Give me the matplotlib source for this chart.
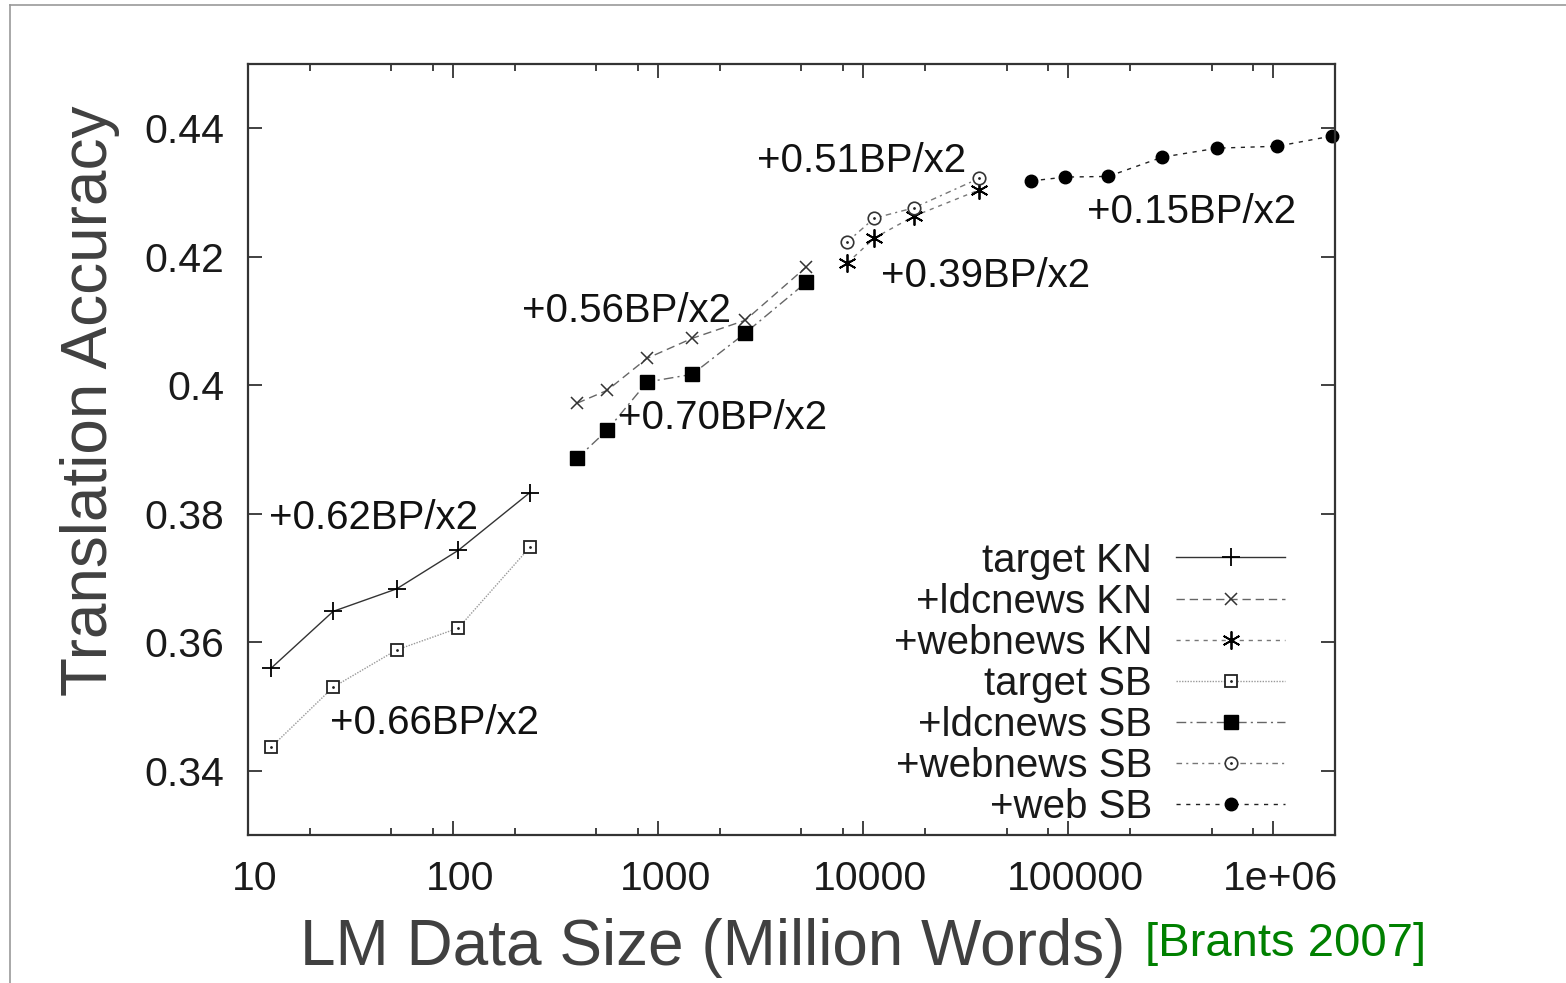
import matplotlib
matplotlib.use("Agg")
import matplotlib.pyplot as plt
from matplotlib.lines import Line2D
from matplotlib.transforms import ScaledTranslation
from matplotlib.ticker import FixedLocator, FixedFormatter, LogLocator, NullFormatter

plt.rcParams['font.family'] = ['Liberation Sans', 'DejaVu Sans']

# LM data size (million words) vs translation accuracy (BLEU)
target_x = [13, 26, 53, 106, 237]
target_kn_y = [0.3560, 0.3648, 0.3683, 0.3743, 0.3833]
target_sb_y = [0.3437, 0.3530, 0.3588, 0.3622, 0.3748]

ldcnews_x = [402, 564, 884, 1466, 2656, 5272]
ldcnews_kn_y = [0.3972, 0.3992, 0.4042, 0.4073, 0.4101, 0.4184]
ldcnews_sb_y = [0.3886, 0.3930, 0.4005, 0.4017, 0.4081, 0.4160]

webnews_x = [8356, 11320, 17630, 36800]
webnews_kn_y = [0.4190, 0.4229, 0.4263, 0.4304]
webnews_sb_y = [0.4223, 0.4260, 0.4276, 0.4322]

web_x = [66000, 96700, 156700, 287500, 533000, 1047000, 1940000]
web_sb_y = [0.4318, 0.4324, 0.4325, 0.4355, 0.4369, 0.4372, 0.4388]

slope_labels = ["+0.62BP/x2", "+0.66BP/x2", "+0.56BP/x2", "+0.70BP/x2",
                "+0.51BP/x2", "+0.39BP/x2", "+0.15BP/x2"]
slope_x = [12.7, 25, 216, 634, 3050, 12250, 123500]
slope_y = [0.3776, 0.3457, 0.4098, 0.3932, 0.4332, 0.4153, 0.4252]

xticks = [10, 100, 1000, 10000, 100000, 1000000]
xtick_labels = ["10", "100", "1000", "10000", "100000", "1e+06"]
yticks = [0.34, 0.36, 0.38, 0.40, 0.42, 0.44]
ytick_labels = ["0.34", "0.36", "0.38", "0.4", "0.42", "0.44"]

FS = 29
GRAY_TXT = "#404040"

fig = plt.figure(figsize=(15.66, 9.83), dpi=100)
ax = fig.add_axes([0.1584, 0.1506, 0.6941, 0.7843])

lw = 1.0
h1, = ax.plot(target_x, target_kn_y, color="#333333", lw=lw, ls="-",
              marker="+", ms=13, mew=1.3, mec="black")
h2, = ax.plot(ldcnews_x, ldcnews_kn_y, color="#666666", lw=lw, ls=(0, (6, 3.5)),
              marker="x", ms=9, mew=1.1, mec="#333333")
h3, = ax.plot(webnews_x, webnews_kn_y, color="#777777", lw=lw, ls=(0, (3, 3.5)),
              marker=(6, 2, 0), ms=13, mew=1.3, mec="black")
h4, = ax.plot(target_x, target_sb_y, color="#999999", lw=lw, ls=(0, (1, 1)),
              marker="s", ms=9, mew=1.3, mfc="white", mec="#222222")
h4d, = ax.plot(target_x, target_sb_y, ls="none", marker=".", ms=2, color="#222222")
h5, = ax.plot(ldcnews_x, ldcnews_sb_y, color="#666666", lw=lw, ls=(0, (7, 3, 1.5, 3)),
              marker="s", ms=10, mfc="black", mec="black")
h6, = ax.plot(webnews_x, webnews_sb_y, color="#777777", lw=lw, ls=(0, (4, 3, 1.5, 3)),
              marker="o", ms=9, mew=1.2, mfc="white", mec="#333333")
h6d, = ax.plot(webnews_x, webnews_sb_y, ls="none", marker=".", ms=2, color="#222222")
h7, = ax.plot(web_x, web_sb_y, color="#222222", lw=lw, ls=(0, (3, 4)),
              marker="o", ms=9, mfc="black", mec="black", clip_on=False)

for lab, x, y in zip(slope_labels, slope_x, slope_y):
    ax.text(x, y, lab, fontsize=FS, ha="left", va="baseline", color="#111111")

ax.set_xscale("log")
ax.set_xlim(10, 2e6)
ax.set_ylim(0.33, 0.45)
ax.xaxis.set_major_locator(FixedLocator(xticks))
ax.xaxis.set_major_formatter(FixedFormatter(xtick_labels))
ax.xaxis.set_minor_locator(LogLocator(base=10, subs=(2, 5, 8)))
ax.xaxis.set_minor_formatter(NullFormatter())
ax.yaxis.set_major_locator(FixedLocator(yticks))
ax.yaxis.set_major_formatter(FixedFormatter(ytick_labels))

ax.tick_params(which="both", direction="in", top=True, right=True,
               colors="#333333", labelcolor="#1a1a1a", labelsize=29.5)
ax.tick_params(which="major", length=10, width=1.3)
ax.tick_params(which="minor", length=5, width=1.3)
ax.tick_params(axis="y", pad=17)
ax.tick_params(axis="x", pad=18)
for s in ax.spines.values():
    s.set_color("#333333")
    s.set_linewidth(1.6)

# gnuplot puts the x tick labels a few pixels right of the tick
shift = ScaledTranslation(5 / 72, 0, fig.dpi_scale_trans)
for lbl in ax.get_xticklabels():
    lbl.set_transform(lbl.get_transform() + shift)

ax.set_xlabel("LM Data Size (Million Words)", fontsize=46, color=GRAY_TXT, va="center")
ax.xaxis.set_label_coords(0.4278, -0.146)
ax.set_ylabel("Translation Accuracy", fontsize=46, color=GRAY_TXT, va="center", ha="center")
ax.yaxis.set_label_coords(-0.145, 0.5627)

fig.text(0.8212, 0.040, "[Brants 2007]", fontsize=34, color="#008000",
         ha="center", va="center")

handles = [h1, h2, h3, (h4, h4d), h5, (h6, h6d), h7]
labels = ["target KN", "+ldcnews KN", "+webnews KN", "target SB",
          "+ldcnews SB", "+webnews SB", "+web SB"]
leg = ax.legend(handles, labels, loc="lower right", bbox_to_anchor=(0.954, 0.012),
                markerfirst=False, frameon=False, fontsize=FS, numpoints=1,
                handlelength=2.7, handletextpad=0.6, labelspacing=0.075,
                borderaxespad=0, borderpad=0)
for t in leg.get_texts():
    t.set_color("#1a1a1a")

# slide frame lines
fig.add_artist(Line2D([10 / 1566, 1], [1 - 5 / 983, 1 - 5 / 983], color="#999999", lw=1.2))
fig.add_artist(Line2D([10 / 1566, 10 / 1566], [0, 1 - 5 / 983], color="#999999", lw=1.2))

fig.savefig("out.png", dpi=100)
